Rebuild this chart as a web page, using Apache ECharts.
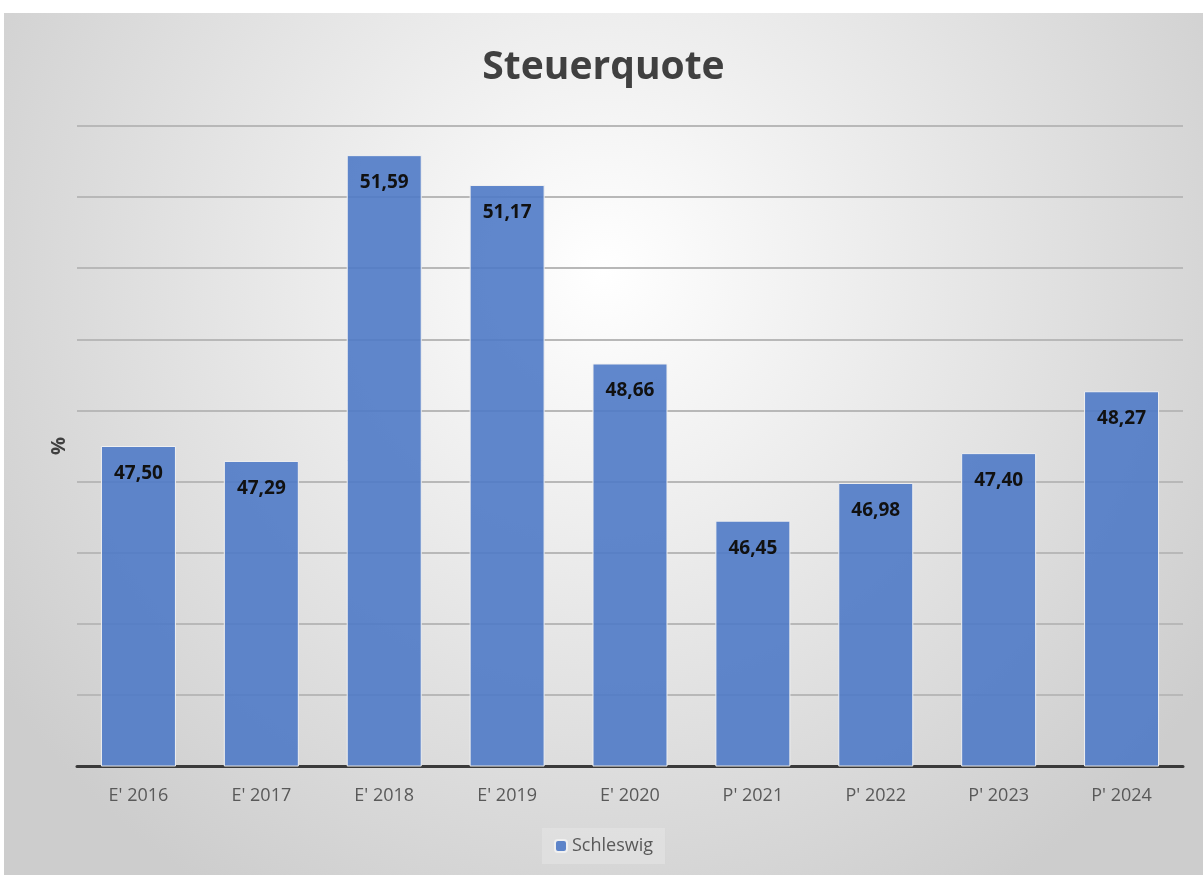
<!DOCTYPE html>
<html lang="de">
<head>
  <meta charset="UTF-8">
  <title>Steuerquote</title>
  <style>
    html, body { margin: 0; padding: 0; background: #fff; }
    .wrapper { position: absolute; left: 4px; top: 13px; width: 1199px; height: 862px; }
  </style>
</head>
<body>
  <div class="wrapper"></div>

  <script src="https://cdn.jsdelivr.net/npm/echarts@6/dist/echarts.min.js"></script>
  <script>
    const categories = ["E' 2016", "E' 2017", "E' 2018", "E' 2019", "E' 2020", "P' 2021", "P' 2022", "P' 2023", "P' 2024"]
    const schleswig = [47.50, 47.29, 51.59, 51.17, 48.66, 46.45, 46.98, 47.40, 48.27]

    const font = 'Open Sans'
    const echart = echarts.init(document.querySelector('.wrapper'))

    const option = {
      backgroundColor: {
        type: 'radial', x: 0.5, y: 0.3, r: 0.85,
        colorStops: [
          { offset: 0, color: '#ffffff' },
          { offset: 1, color: '#cdcdcd' }
        ]
      },
      title: {
        text: 'Steuerquote',
        left: 'center',
        top: 30,
        textStyle: { fontFamily: font, fontSize: 39, fontWeight: 'bold', color: '#404040' }
      },
      legend: {
        bottom: 11,
        left: 'center',
        data: ['Schleswig'],
        itemWidth: 12,
        itemHeight: 12,
        itemGap: 6,
        padding: [9, 12],
        backgroundColor: 'rgba(225,225,225,0.8)',
        textStyle: { fontFamily: font, fontSize: 18, color: '#595959' }
      },
      grid: { left: 73, right: 20, top: 113, bottom: 109 },
      xAxis: {
        type: 'category',
        data: categories,
        axisTick: { show: false },
        axisLine: { lineStyle: { color: '#3a3a3a', width: 3 } },
        axisLabel: { fontFamily: font, fontSize: 18, color: '#595959', margin: 21 }
      },
      yAxis: {
        type: 'value',
        min: 43,
        max: 52,
        interval: 1,
        name: '%',
        nameLocation: 'middle',
        nameRotate: 90,
        nameGap: 8,
        nameTextStyle: { fontFamily: font, fontSize: 20, fontWeight: 'bold', color: '#404040' },
        axisLabel: { show: false },
        axisLine: { show: false },
        axisTick: { show: false },
        splitLine: { lineStyle: { color: '#b8b8b8', width: 2 } }
      },
      series: [{
        name: 'Schleswig',
        type: 'bar',
        data: schleswig,
        barWidth: 75,
        itemStyle: { color: 'rgba(79,122,198,0.9)', borderColor: '#f0f0f0', borderWidth: 1 },
        label: {
          show: true,
          position: 'insideTop',
          distance: 18,
          fontFamily: font,
          fontSize: 19,
          fontWeight: 'bold',
          color: '#111',
          formatter: p => p.value.toFixed(2).replace('.', ',')
        }
      }]
    }

    echart.setOption(option)
  </script>
</body>
</html>
